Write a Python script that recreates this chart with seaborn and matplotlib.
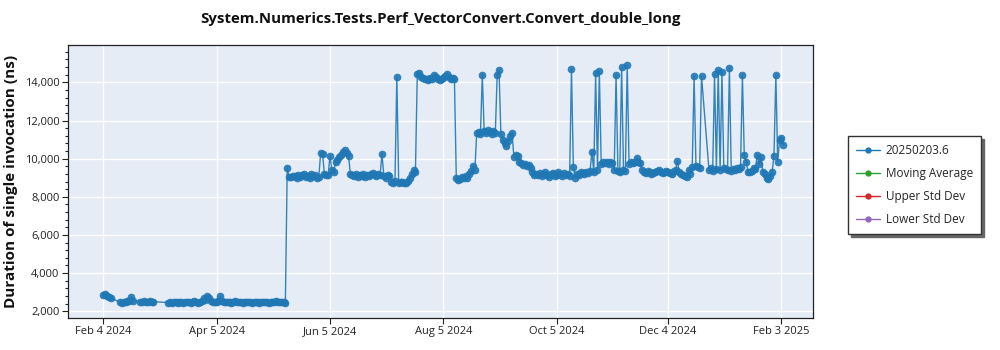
import pandas as pd
import numpy as np
import matplotlib
matplotlib.use("Agg")
import matplotlib.pyplot as plt
import matplotlib.dates as mdates
from matplotlib.lines import Line2D
from matplotlib.ticker import FuncFormatter, MultipleLocator
import seaborn as sns

# ---- data: runs of consecutive daily measurements (start date, values) ----
run1_start = "2024-02-04"
run1_values = [2860, 2880, 2820, 2730, 2700]

run2_start = "2024-02-13"
run2_values = [2480, 2460, 2500, 2470, 2520, 2560, 2760, 2540]

run3_start = "2024-02-24"
run3_values = [2510, 2490, 2540, 2480, 2500, 2530, 2470, 2500]

run4_start = "2024-03-10"
run4_values = [2460, 2480, 2450, 2470, 2500, 2460, 2490, 2470, 2450, 2480,
               2500, 2470, 2460, 2490, 2520, 2480, 2460, 2500, 2550, 2720,
               2600, 2780, 2700, 2520, 2490, 2510, 2470, 2560, 2800, 2540,
               2500, 2480, 2510, 2470, 2460, 2490, 2520, 2480, 2470, 2500,
               2460, 2480, 2510, 2470, 2490, 2460, 2500, 2480, 2470, 2450,
               2490, 2470, 2510, 2480, 2460, 2500, 2470, 2490, 2520, 2480,
               2470, 2500, 2480, 2460]

run5_start = "2024-05-13"
run5_values = [9530, 9050, 9020, 9100, 9080, 9000, 9150, 9060, 9120, 9200,
               9050, 9100, 9010, 9180, 9070, 9120, 9000, 9060, 10300, 10250,
               9200, 9150, 9120, 10150, 9400, 9300, 9800, 9950, 10100, 10200,
               10350, 10450, 10300, 10150, 9200, 9150, 9100, 9180, 9050, 9120,
               9100, 9200, 9060, 9150, 9100, 9180, 9250, 9120, 9080, 9200,
               9150, 10260, 9100, 9000, 9150, 9100, 8800, 8750, 8850, 14300,
               8700, 8780, 8800, 8720, 8750, 8850, 9000, 9200, 9400, 9300]

run6_start = "2024-07-22"
run6_values = [14420, 14500, 14300, 14250, 14150, 14200, 14100, 14250, 14180, 14400,
               14300, 14150, 14100, 14200, 14250, 14350, 14450, 14300, 14200, 14250,
               14150]

run7_start = "2024-08-12"
run7_values = [9000, 8900, 8950, 9050, 8980, 9100, 9000, 9200, 9350, 9630,
               9400, 11370, 11400, 11300, 14400, 11450, 11350, 11500, 11400, 11300,
               11450, 11350, 14370, 14630, 11300, 11000, 10800, 10650, 10900, 11200,
               11370, 10100, 10200, 10150, 9800, 9750, 9650, 9700, 9600, 9650,
               9500, 9300, 9160, 9200, 9150, 9250, 9100, 9200, 9300, 9150,
               9050, 9200, 9250, 9100, 9150, 9300, 9200, 9100, 9250, 9150,
               9200, 9100, 14680, 9580, 9000, 9200, 9150, 9300, 9250, 9200,
               9300, 9250, 9350, 10370, 9300, 14470, 9400, 14580, 9700, 9800,
               9750, 9850, 9700, 9800, 9750, 9400, 14370, 9350, 9300, 14790,
               9400, 9350, 14900, 9700, 9800, 9750, 9850, 10050, 9800, 9750,
               9400, 9300, 9250, 9350, 9300, 9200, 9250, 9300, 9350, 9400,
               9300, 9250, 9300, 9350, 9300, 9250, 9200, 9350, 9400, 9900,
               9300, 9200, 9150, 9100, 9050, 9400, 9200, 9580, 14320, 9600,
               9550, 9500, 14320]

run8_start = "2024-12-26"
run8_values = [9420, 9500, 9350, 14420, 9450, 14630, 9400, 14530, 9500, 9450,
               9400, 14740, 9350, 9450, 9400, 9500, 9450, 9550, 14370, 10200,
               9850, 9300, 9300, 9350, 9500, 9450, 10200, 9700, 10100, 9300,
               9200, 9000, 8950, 9100, 9300, 10150, 14370, 9850, 11000, 11100,
               10740]

run_starts = [run1_start, run2_start, run3_start, run4_start,
              run5_start, run6_start, run7_start, run8_start]
run_values = [run1_values, run2_values, run3_values, run4_values,
              run5_values, run6_values, run7_values, run8_values]

legend_labels = ["20250203.6", "Moving Average", "Upper Std Dev", "Lower Std Dev"]
legend_colors = ["#1f77b4", "#2ca02c", "#d62728", "#9467bd"]
x_tick_dates = ["2024-02-04", "2024-04-05", "2024-06-05", "2024-08-05",
                "2024-10-05", "2024-12-04", "2025-02-03"]
y_ticks = [2000, 4000, 6000, 8000, 10000, 12000, 14000]
title = "System.Numerics.Tests.Perf_VectorConvert.Convert_double_long"
y_label = "Duration of single invocation (ns)"

# ---- build table ----
frames = []
for start, vals in zip(run_starts, run_values):
    frames.append(pd.DataFrame({
        "date": pd.date_range(start, periods=len(vals), freq="D"),
        "value": vals,
    }))
df = pd.concat(frames, ignore_index=True)

# ---- plot ----
sns.set_theme(style="darkgrid")
plt.rcParams["font.family"] = ["Open Sans", "DejaVu Sans"]

fig = plt.figure(figsize=(10, 3.5), dpi=100)
ax = fig.add_axes([0.068, 0.091, 0.745, 0.78])
ax.set_facecolor("#E5ECF6")

sns.lineplot(data=df, x="date", y="value", ax=ax, estimator=None, sort=False,
             color="#1f77b4", linewidth=1.0, marker="o", markersize=5,
             markeredgewidth=0.5, markeredgecolor="#1f77b4", alpha=0.9)

ax.set_xlim(pd.Timestamp("2024-01-16"), pd.Timestamp("2025-02-20"))
ax.set_ylim(1640, 15950)
ax.set_xticks(pd.to_datetime(x_tick_dates))
ax.xaxis.set_major_formatter(FuncFormatter(
    lambda v, p: (lambda d: f"{d.strftime('%b')} {d.day} {d.year}")(mdates.num2date(v))))
ax.set_yticks(y_ticks)
ax.yaxis.set_minor_locator(MultipleLocator(400))
ax.yaxis.set_major_formatter(FuncFormatter(lambda v, p: f"{int(v):,}"))

ax.grid(True, which="major", color="white", linewidth=1.0)
ax.grid(False, which="minor")
for s in ax.spines.values():
    s.set_visible(True)
    s.set_color("#222222")
    s.set_linewidth(0.9)
ax.tick_params(axis="both", which="major", labelsize=8, length=4, width=0.8,
               color="#222222", labelcolor="#222222", pad=2, left=True, bottom=True)
ax.tick_params(axis="y", which="minor", length=2.5, width=0.8, color="#222222", left=True)

ax.set_xlabel("")
ax.set_ylabel(y_label, fontsize=11, fontweight="bold", color="#111111", labelpad=5)
fig.suptitle(title, x=0.44, y=0.965, fontsize=10.8, fontweight="bold", color="#111111")

handles = [Line2D([0], [0], color=c, linewidth=1.0, marker="o", markersize=3.5)
           for c in legend_colors]
leg = fig.legend(handles, legend_labels, loc="upper left",
                 bbox_to_anchor=(0.848, 0.612), frameon=True, fancybox=False,
                 shadow={"color": "#666666", "alpha": 1.0}, fontsize=8.5,
                 handlelength=2.0, borderpad=0.7,
                 labelspacing=0.85, handletextpad=0.5, borderaxespad=0)
leg.get_frame().set_edgecolor("#333333")
leg.get_frame().set_linewidth(1.0)
leg.get_frame().set_facecolor("white")
leg.get_frame().set_alpha(1.0)

fig.savefig("out.png", dpi=100)
